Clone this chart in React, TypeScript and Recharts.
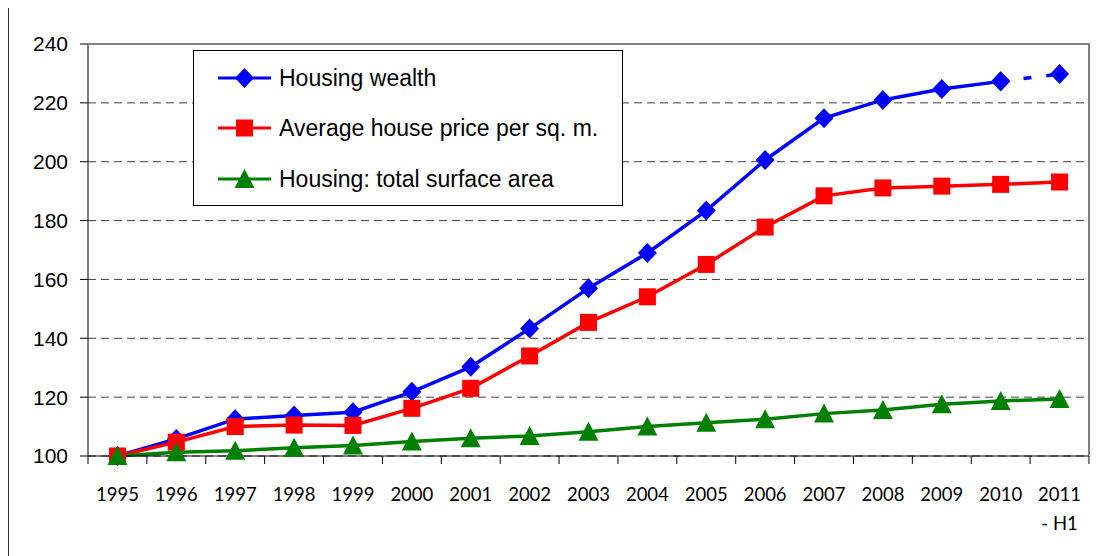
import React from 'react';
import { LineChart, Line, XAxis, YAxis, CartesianGrid, Legend } from 'recharts';

// index values, 1995 = 100
const years = ['1995', '1996', '1997', '1998', '1999', '2000', '2001', '2002', '2003', '2004', '2005', '2006', '2007', '2008', '2009', '2010', '2011 - H1'];
const housingWealth = [100, 105.8, 112.5, 113.8, 114.9, 121.8, 130.3, 143.3, 157, 169, 183.4, 200.6, 214.8, 221, 224.7, 227.3, 229.8];
const pricePerSqM = [100, 104.7, 110, 110.5, 110.4, 116.2, 123, 134, 145.4, 154.1, 165.1, 177.8, 188.4, 191.1, 191.7, 192.3, 193.1];
const surfaceArea = [100, 101.3, 101.8, 102.8, 103.6, 104.9, 106, 106.8, 108.2, 110, 111.3, 112.5, 114.4, 115.6, 117.6, 118.7, 119.4];
const yTicks = [100, 120, 140, 160, 180, 200, 220, 240];

const W = 1114;
const H = 556;
const PLOT_LEFT = 88;
const PLOT_TOP = 44;
const PLOT_RIGHT = 1089;
const PLOT_BOTTOM = 456;
const BAND = (PLOT_RIGHT - PLOT_LEFT) / years.length;
const LAST = years.length - 1;

const BLUE = '#0000FF';
const RED = '#FF0000';
const GREEN = '#008000';

// the last (H1) point of housing wealth is joined by a dashed segment
const data = years.map((year, i) => ({
  year,
  wealth: i < LAST ? housingWealth[i] : null,
  wealthH1: i >= LAST - 1 ? housingWealth[i] : null,
  price: pricePerSqM[i],
  area: surfaceArea[i],
}));

const diamond = (cx: number, cy: number, color: string, key?: any) => (
  <polygon key={key} points={`${cx},${cy - 10} ${cx + 9.5},${cy} ${cx},${cy + 10} ${cx - 9.5},${cy}`} fill={color} />
);
const square = (cx: number, cy: number, color: string, key?: any) => (
  <rect key={key} x={cx - 8.5} y={cy - 8.5} width={17} height={17} fill={color} />
);
const triangle = (cx: number, cy: number, color: string, key?: any) => (
  <polygon key={key} points={`${cx},${cy - 10} ${cx + 10},${cy + 9} ${cx - 10},${cy + 9}`} fill={color} />
);

const makeDot = (shape: typeof diamond, color: string) => (props: any) => {
  const { cx, cy, value, index } = props;
  const key = `dot-${color}-${index}`;
  if (value == null || cx == null || cy == null) return <g key={key} />;
  return shape(cx, cy, color, key);
};

const XTick = (props: any) => {
  const { x, payload } = props;
  const label = String(payload.value);
  const parts = label.split(' - ');
  const isLast = label === years[LAST];
  return (
    <g>
      <line x1={x - BAND / 2} x2={x - BAND / 2} y1={PLOT_BOTTOM} y2={PLOT_BOTTOM + 8} stroke="#000" />
      {isLast && <line x1={x + BAND / 2} x2={x + BAND / 2} y1={PLOT_BOTTOM} y2={PLOT_BOTTOM + 8} stroke="#000" />}
      <text x={x} y={PLOT_BOTTOM + 45} textAnchor="middle" fontFamily="Lato" fontSize={18.5} fill="#000">
        {parts.map((p, i) => (
          <tspan key={i} x={x} dy={i === 0 ? 0 : 29}>{i === 0 ? p : '- ' + p}</tspan>
        ))}
      </text>
    </g>
  );
};

const legendItems = [
  { label: 'Housing wealth', color: BLUE, shape: diamond },
  { label: 'Average house price per sq. m.', color: RED, shape: square },
  { label: 'Housing: total surface area', color: GREEN, shape: triangle },
];
const legendRows = [27, 77, 128];

const LegendBox = () => (
  <div style={{ position: 'relative', width: 430, height: 156, border: '1px solid #000', boxSizing: 'border-box', background: '#fff' }}>
    {legendItems.map((item, i) => (
      <div key={item.label} style={{ position: 'absolute', left: 23, top: legendRows[i] - 15, height: 30, display: 'flex', alignItems: 'center', whiteSpace: 'nowrap' }}>
        <svg width={56} height={30}>
          <line x1={1} x2={54} y1={15} y2={15} stroke={item.color} strokeWidth={3} />
          {item.shape(27.5, 15, item.color)}
        </svg>
        <span style={{ marginLeft: 6, fontFamily: 'Liberation Sans, Arial', fontSize: 23, color: '#000' }}>{item.label}</span>
      </div>
    ))}
  </div>
);

export default function App() {
  return (
    <div style={{ position: 'relative', left: -8, top: -8, width: W, height: H, background: '#fff', overflow: 'hidden' }}>
      <LineChart width={W} height={H} data={data} margin={{ top: PLOT_TOP, right: W - PLOT_RIGHT, left: 8, bottom: 40 }}>
        <CartesianGrid vertical={false} stroke="#404040" strokeDasharray="8 5" />
        <XAxis
          dataKey="year"
          interval={0}
          height={60}
          padding={{ left: BAND / 2, right: BAND / 2 }}
          tickLine={false}
          axisLine={{ stroke: '#000' }}
          tick={<XTick />}
        />
        <YAxis
          domain={[100, 240]}
          ticks={yTicks}
          width={80}
          tickSize={8}
          tickMargin={12}
          axisLine={{ stroke: '#000' }}
          tickLine={{ stroke: '#000' }}
          tick={{ fill: '#000', fontSize: 21, fontFamily: 'Liberation Sans, Arial' }}
        />
        <Legend
          layout="vertical"
          align="center"
          verticalAlign="middle"
          content={<LegendBox />}
          wrapperStyle={{ left: 193, top: 50, width: 430, height: 156 }}
        />
        <Line type="linear" dataKey="wealth" stroke={BLUE} strokeWidth={3.5} dot={makeDot(diamond, BLUE)} activeDot={false} isAnimationActive={false} connectNulls={false} />
        <Line type="linear" dataKey="wealthH1" stroke={BLUE} strokeWidth={3.5} strokeDasharray="8 15" dot={makeDot(diamond, BLUE)} activeDot={false} isAnimationActive={false} legendType="none" />
        <Line type="linear" dataKey="price" stroke={RED} strokeWidth={3.5} dot={makeDot(square, RED)} activeDot={false} isAnimationActive={false} />
        <Line type="linear" dataKey="area" stroke={GREEN} strokeWidth={3.5} dot={makeDot(triangle, GREEN)} activeDot={false} isAnimationActive={false} />
      </LineChart>
      {/* plot frame: gray top and right edges */}
      <div style={{ position: 'absolute', left: PLOT_LEFT, top: PLOT_TOP - 1, width: PLOT_RIGHT - PLOT_LEFT + 1, height: PLOT_BOTTOM - PLOT_TOP, borderTop: '2px solid #808080', borderRight: '2px solid #808080', boxSizing: 'border-box', pointerEvents: 'none' }} />
      {/* outer frame, open on the right and bottom */}
      <div style={{ position: 'absolute', left: 8, top: 5, right: -2, bottom: -2, borderTop: '1.5px solid #333', borderLeft: '1.5px solid #333', pointerEvents: 'none' }} />
    </div>
  );
}
